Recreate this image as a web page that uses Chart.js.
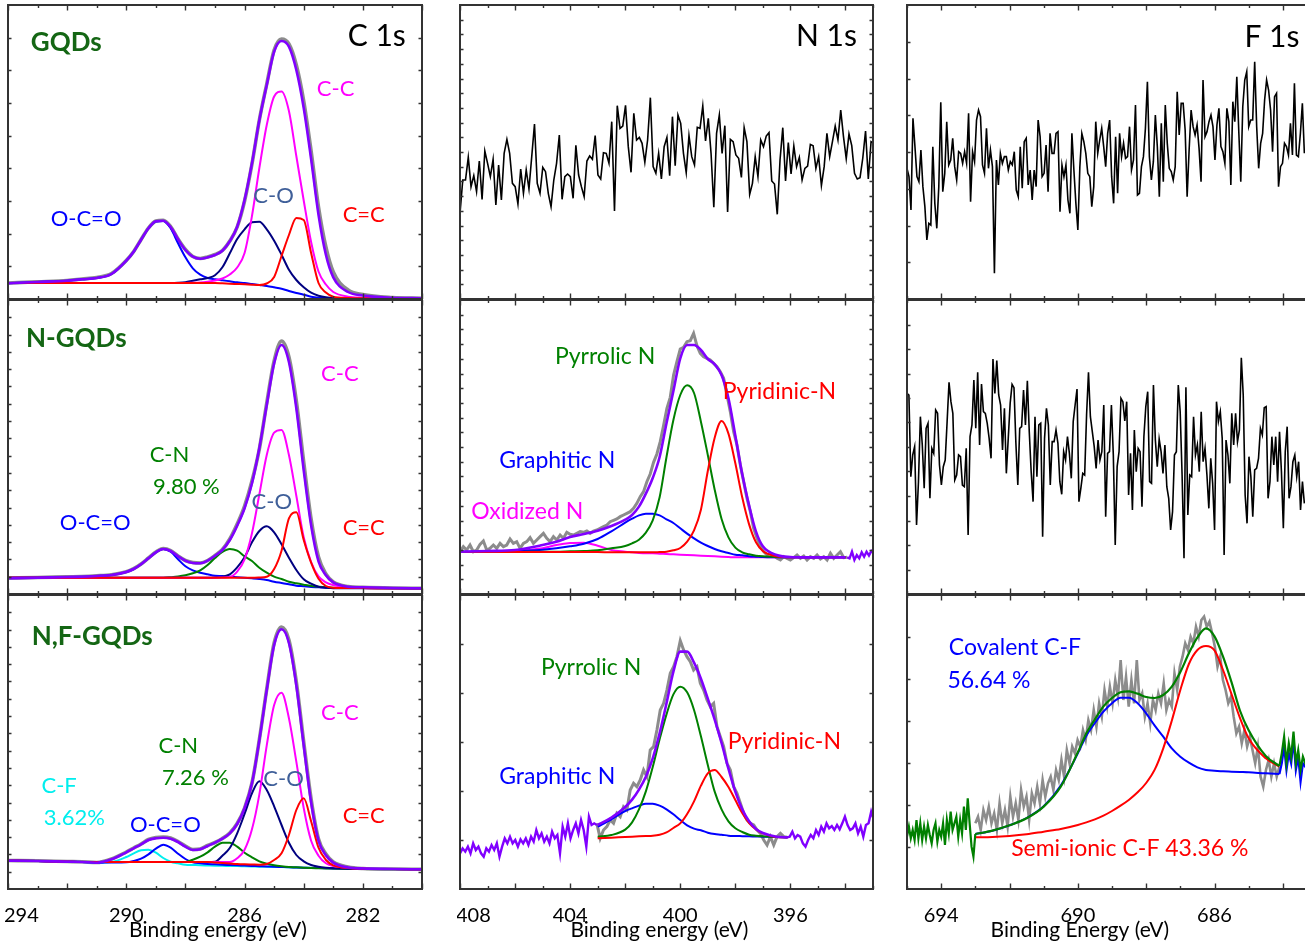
<!DOCTYPE html>
<html lang="en">
<head>
    <meta charset="UTF-8">
    <title>XPS C 1s, N 1s and F 1s spectra of GQDs, N-GQDs and N,F-GQDs</title>
    <style>
        html, body { margin: 0; padding: 0; background: #fff; }
        body { position: relative; width: 1305px; height: 945px; overflow: hidden; }
        canvas { position: absolute; }
    </style>
</head>
<body>

    <script src="https://cdn.jsdelivr.net/npm/chart.js@4.4.1/dist/chart.umd.min.js"></script>
    <script>

        // ---- C 1s : fitted spectra (binding energy in eV, intensity a.u.) ----
        const c1sEnergy = [294, 293, 292, 291.5, 291, 290.5, 290, 289.75, 289.5, 289.25, 289, 288.75, 288.5, 288.25, 288,
            287.75, 287.5, 287.25, 287, 286.75, 286.5, 286.25, 286, 285.75, 285.5, 285.25, 285, 284.75, 284.5, 284.25,
            284, 283.75, 283.5, 283.25, 283, 282.5, 282, 281, 280];

        // GQDs
        const gqdC1sRaw = [16, 17.2, 18.5, 20, 21.5, 25.5, 38.5, 47.5, 59.5, 71, 78, 78.8, 72.5, 60, 49.5, 42.5, 40.5, 42, 44.5, 48.5,
            58, 72, 98, 135, 179, 215, 249, 260, 255, 234, 198, 148, 92, 52, 27, 9, 4.5, 1.5, 0.8];
        const gqdC1sFit = [15.7, 17, 18.3, 19.7, 21, 25, 38.3, 47.3, 59.3, 70.7, 77.8, 78.3, 72, 59.7, 49, 42.3, 40.3, 41.7, 44, 48.3,
            57.7, 72.3, 99, 135.7, 179, 214, 247.3, 258, 252.3, 229, 191, 140, 84.3, 44.3, 21.7, 7, 3.5, 1.3, 0.7];
        const gqdC1sOCO = [15.7, 17, 18.3, 19.7, 21, 25, 38.3, 47.3, 59.3, 70.7, 77.5, 78, 70.7, 55.7, 41.7, 30.7, 24.3, 21, 19.7, 18.7,
            17.7, 16.7, 16, 15, 14, 13, 11.7, 10.3, 8, 6, 4.3, 2.3, 1.3, 1, 0.7, 0.5, 0.5, 0.3, 0.3];
        const gqdC1sCO = [16, 16, 16, 16, 16, 16, 16, 16, 16, 16, 16, 16, 16, 16.2, 16.8, 18.3, 19.7, 21, 23.7, 31.7,
            45.7, 60, 69.7, 76.7, 77.3, 69.7, 58.3, 44.3, 29.3, 19, 11.7, 6.3, 3.3, 1.7, 1, 0.8, 0.7, 0.5, 0.5];
        const gqdC1sCC = [16, 16, 16, 16, 16, 16, 16, 16, 16, 16, 16, 16, 16, 16, 16, 16.2, 16.5, 17.3, 18.5, 20.5,
            24.5, 31.5, 46, 83, 131, 174, 202.5, 207.5, 188, 143, 98.5, 57, 27.5, 14.5, 7, 2.3, 1.3, 0.8, 0.5];
        const gqdC1sCdC = [16, 16, 16, 16, 16, 16, 16, 16, 16, 16, 16, 16, 16, 16, 16, 16, 16, 16, 16, 15.7,
            15.3, 15, 14.7, 14.3, 14, 15.5, 22, 43, 64, 81, 79, 46, 16, 6.5, 2.3, 1, 0.7, 0.5, 0.5];

        // N-GQDs
        const ngqC1sRaw = [16, 16.5, 17.2, 17.5, 18.2, 19.3, 22.2, 25.3, 30, 36, 42, 45.5, 43.5, 38, 33.5, 31.5, 31, 33.5, 38.5, 44.5,
            55, 70, 88, 113, 145, 191, 233, 253, 237, 193, 132, 75, 37, 20, 12, 7.5, 6.7, 6, 5.7];
        const ngqC1sFit = [15.7, 16.3, 17, 17.3, 18, 19, 22, 25, 29.7, 35.7, 41.7, 45, 43, 37.7, 33.3, 31, 30.7, 33.3, 38.3, 44,
            54, 68.3, 85.7, 110.7, 146, 189, 230.7, 249, 232, 185.7, 123.7, 68.7, 32.7, 18.7, 11.7, 7.3, 6.7, 6, 5.7];
        const ngqC1sOCO = [15.7, 16.3, 17, 17.3, 18, 19, 22, 25, 29.7, 35.7, 41.7, 45, 42.3, 34.7, 27.7, 23.7, 21.3, 19.7, 18.3, 18,
            17.3, 16.7, 16.3, 15.7, 15, 14, 12.3, 11, 9.7, 8.3, 7.7, 7, 6.7, 6.3, 6, 6, 6, 6, 5.7];
        const ngqC1sCN = [16.3, 16.3, 16.3, 16.3, 16.3, 16.3, 16.3, 16.3, 16.3, 16.3, 16.3, 16.3, 16.8, 17.5, 18.7, 20.7, 23.7, 29, 36, 42,
            45, 43.3, 37.7, 33, 26.3, 21.3, 17.3, 15, 12.3, 10.7, 9.3, 8, 7.3, 6.7, 6.3, 6, 6, 5.7, 5.7];
        const ngqC1sCO = [16.3, 16.3, 16.3, 16.3, 16.3, 16.3, 16.3, 16.3, 16.3, 16.3, 16.3, 16.3, 16.3, 16.3, 16.3, 16.3, 16.3, 16.3, 16.5, 17.3,
            19.7, 26.7, 36.7, 51.7, 63, 67.7, 61.7, 49.7, 36.3, 24, 14.7, 10.3, 7.3, 6.3, 5.7, 5.7, 5.7, 5.7, 5.7];
        const ngqC1sCC = [16.3, 16.3, 16.3, 16.3, 16.3, 16.3, 16.3, 16.3, 16.3, 16.3, 16.3, 16.3, 16.3, 16.3, 16.3, 16.3, 16.3, 16.3, 16.3, 16.5,
            17, 22.3, 34.7, 60.7, 99.7, 139, 161.3, 164, 139, 98.3, 56.7, 32, 17.7, 11.7, 9, 6.7, 6, 5.7, 5.7];
        const ngqC1sCdC = [16.3, 16.3, 16.3, 16.3, 16.3, 16.3, 16.3, 16.3, 16.3, 16.3, 16.3, 16.3, 16.3, 16.3, 16.3, 16.3, 16.3, 16.3, 16.3, 16.3,
            16.3, 16.3, 16.3, 16.3, 16.5, 17.3, 25, 43.3, 75.7, 81.7, 54, 31.3, 15.3, 8, 6.3, 6, 6, 5.7, 5.7];

        // N,F-GQDs
        const nfC1sRaw = [28.5, 28.2, 27.5, 27.2, 26.5, 30, 37, 41, 45, 49.5, 51.5, 52, 51, 47.5, 43, 39.5, 40, 43.5, 46.5, 50.5,
            56, 65.5, 81, 106, 149.5, 200, 246, 262, 249, 207, 147, 90, 50, 35, 27, 22, 20.5, 20, 19.7];
        const nfC1sFit = [28.3, 28, 27.3, 27, 26.3, 29.7, 36.7, 40.7, 44.7, 49, 50.7, 51.3, 50.3, 47, 42.3, 39, 39.7, 43, 46.3, 50.3,
            55.7, 65, 80.7, 105.7, 149, 199, 244, 259.7, 246, 203.7, 143.7, 86.7, 48.3, 33.7, 26.3, 21.5, 20.5, 20, 19.7];
        const nfC1sCF = [28.3, 28, 27.3, 27, 26.3, 27, 32, 35.7, 38.7, 39.3, 36.3, 31, 27.3, 25.7, 24.3, 24, 23.7, 23.5, 23.3, 23.2,
            23, 22.9, 22.7, 22.5, 22.3, 22.2, 22, 21.9, 21.7, 21.5, 21.3, 21.2, 21, 20.9, 20.7, 20.5, 20.3, 20, 19.7];
        const nfC1sOCO = [28.3, 28, 27.3, 27, 26.3, 26.5, 26.7, 28, 30.3, 34.7, 40.3, 44.3, 41.3, 35.3, 30, 26.7, 25.7, 25, 24.7, 24.3,
            24, 23.7, 23.4, 23.1, 22.8, 22.5, 22.3, 22, 21.7, 21.5, 21.3, 21.1, 21, 20.8, 20.6, 20.4, 20.3, 20, 19.7];
        const nfC1sCN = [28.3, 28, 27.3, 27, 27, 27, 27, 27, 27, 27, 27, 27, 27, 27, 27, 29.3, 32.3, 36.7, 42.3, 46.3,
            46.3, 42.3, 36.3, 31.7, 27.7, 25.3, 23.7, 22.7, 22, 21.7, 21.3, 21, 20.8, 20.6, 20.4, 20.2, 20, 19.8, 19.7];
        const nfC1sCO = [28.3, 28, 27.3, 27, 27, 27, 27, 27, 27, 27, 27, 27, 27, 27, 27, 27, 27, 27, 27.3, 33.3,
            41, 55.7, 75, 95.7, 107.7, 99, 82.7, 64, 46.3, 34, 27.7, 24, 22.3, 21.3, 20.7, 20.3, 20.3, 20, 19.7];
        const nfC1sCC = [28.3, 28, 27.3, 27, 27, 27, 27, 27, 27, 27, 27, 27, 27, 27, 27, 27, 27, 27, 27, 27,
            27, 30.7, 39.3, 59.7, 94.7, 143.7, 184, 196.3, 170.7, 127.3, 81, 48.3, 33.3, 25.7, 23, 21.3, 20.5, 20, 19.7];
        const nfC1sCdC = [28.3, 28, 27.3, 27, 27, 27, 27, 27, 27, 27, 27, 27, 27, 27, 27, 27, 27, 27, 26.5, 26,
            25.5, 25, 24.7, 24.5, 24.3, 25, 29, 35.7, 54, 79, 90.7, 67.7, 41.3, 29, 23.7, 21, 20.3, 20, 19.7];

        // ---- N 1s ----
        // GQDs: no nitrogen signal, raw scan from 408 to 393 eV
        const gqdN1sRaw = [257, 357, 357, 425, 337, 370, 322, 414, 299, 444, 407, 367, 419, 282, 402, 297, 437, 479, 437, 347,
            337, 285, 390, 317, 387, 330, 427, 525, 347, 317, 395, 382, 317, 277, 357, 407, 492, 299, 367, 375,
            367, 302, 461, 372, 337, 307, 414, 429, 419, 490, 372, 360, 439, 437, 407, 532, 264, 580, 512, 519,
            581, 457, 380, 557, 477, 485, 467, 410, 477, 604, 397, 377, 437, 360, 457, 485, 370, 547, 400, 552,
            527, 437, 379, 490, 427, 402, 515, 512, 579, 474, 542, 437, 275, 497, 552, 437, 520, 261, 479, 472,
            432, 422, 365, 514, 472, 314, 347, 427, 367, 477, 457, 489, 499, 354, 345, 254, 417, 514, 354, 469,
            375, 459, 397, 425, 357, 392, 399, 464, 460, 392, 427, 340, 397, 497, 427, 472, 519, 477, 567, 487,
            421, 495, 460, 377, 360, 364, 423, 504, 360, 472, 467];

        // N-GQDs
        const ngqN1sEnergy = [408, 407, 406, 405, 404.5, 404, 403.5, 403, 402.5, 402, 401.75, 401.5, 401.25, 401, 400.75, 400.5,
            400.25, 400, 399.75, 399.5, 399.25, 399, 398.75, 398.5, 398.25, 398, 397.75, 397.5, 397.25, 397, 396.5, 396,
            395.5, 395, 394.5, 394];
        const ngqN1sRaw = [127, 142, 132, 147, 127, 132, 149, 159, 132, 137, 147, 137, 152, 142, 147, 165, 152, 157, 137, 152,
            157, 169, 152, 162, 172, 182, 167, 157, 172, 162, 177, 167, 185, 179, 177, 182, 187, 185, 189, 182,
            189, 192, 197, 202, 207, 217, 221, 225, 232, 237, 242, 247, 257, 272, 292, 307, 337, 360, 395, 420,
            457, 505, 557, 590, 657, 697, 735, 740, 757, 760, 782, 745, 722, 712, 707, 702, 692, 682, 667, 647,
            597, 547, 487, 447, 387, 337, 287, 247, 197, 167, 142, 127, 117, 122, 115, 107, 102, 112, 107, 102,
            109, 117, 107, 114, 102, 112, 107, 117, 105, 112, 102, 122, 107, 117, 127, 109, 110];
        const ngqN1sFit = [127, 129, 132, 147, 157, 171, 180, 190, 204, 223, 237, 262, 301, 348, 411, 512, 609, 707, 747, 747,
            732, 705, 689, 657, 587, 475, 359, 265, 187, 143, 117, 111, 110, 110, 110, 110];
        const ngqN1sTail = [110, 107, 127, 102, 117, 107, 125, 112, 127, 115, 129, 122];
        const ngqN1sOxidized = [126, 128, 130, 137, 147, 153, 154, 145, 132, 127, 125, 123, 122, 122, 121, 120, 119, 118, 117, 116,
            115, 114, 113, 112, 111, 110, 110, 110, 110, 110, 110, 110, 110, 110, 110, 110];
        const ngqN1sGraphitic = [126, 128, 129, 133, 137, 143, 151, 165, 188, 214, 226, 236, 241, 241, 236, 224, 213, 197, 181, 167,
            154, 144, 135, 128, 123, 118, 116, 113, 112, 111, 110, 110, 110, 110, 110, 110];
        const ngqN1sPyrrolic = [126, 126, 126, 127, 127, 128, 129, 131, 137, 144, 152, 163, 184, 221, 290, 411, 522, 597, 626, 603,
            517, 417, 313, 225, 170, 139, 125, 119, 115, 113, 111, 110, 110, 110, 110, 110];
        const ngqN1sPyridinic = [126, 126, 126, 126, 126, 126, 126, 126, 125, 125, 125, 125, 125, 125, 126, 127, 131, 138, 157, 191,
            253, 369, 469, 519, 481, 392, 290, 209, 155, 129, 113, 110, 110, 110, 110, 110];

        // N,F-GQDs
        const nfN1sEnergy = [403, 402.5, 402, 401.75, 401.5, 401.25, 401, 400.75, 400.5, 400.25, 400, 399.75, 399.5, 399.25, 399,
            398.75, 398.5, 398.25, 398, 397.75, 397.5, 397.25, 397, 396.5, 396.1];
        const nfN1sLeft = [107, 122, 112, 127, 107, 137, 117, 127, 107, 97, 122, 112, 132, 117, 137, 97, 127, 152, 137, 157,
            137, 147, 127, 149, 137, 152, 132, 157, 142, 177, 152, 167, 142, 157, 137, 172, 152, 162, 107, 187,
            157, 197, 152, 177, 197, 167, 207, 177, 127, 217, 192, 197, 192];
        const nfN1sRaw = [197, 152, 177, 187, 207, 197, 227, 217, 247, 237, 297, 317, 307, 327, 357, 337, 417, 427, 477, 537,
            557, 597, 647, 667, 697, 745, 717, 697, 682, 657, 667, 617, 597, 567, 547, 557, 487, 457, 427, 377,
            357, 307, 287, 257, 227, 207, 197, 192, 177, 167, 147, 132, 157, 132, 157, 167, 157, 155];
        const nfN1sRight = [155, 157, 172, 152, 162, 157, 137, 127, 147, 162, 152, 177, 162, 187, 172, 197, 182, 189, 177, 192,
            179, 197, 217, 192, 177, 182, 197, 167, 187, 157, 192, 197, 232, 207];
        const nfN1sFit = [192, 214, 246, 268, 298, 337, 392, 467, 557, 652, 712, 712, 679, 631, 571, 508, 438, 361, 292, 239,
            203, 180, 168, 157, 155];
        const nfN1sGraphitic = [187, 209, 234, 242, 250, 256, 256, 250, 239, 224, 207, 191, 181, 176, 169, 165, 163, 160, 159, 158.5,
            158, 157.5, 157, 156, 155];
        const nfN1sPyrrolic = [157, 162, 178, 200, 239, 293, 366, 449, 524, 584, 607, 590, 537, 458, 372, 292, 239, 203, 182, 171,
            163, 160, 158, 156, 155];
        const nfN1sPyridinic = [152, 154, 156, 157, 158, 159, 160, 163, 170, 183, 197, 225, 263, 310, 347, 357, 336, 306, 267, 228,
            198, 179, 167, 156, 155];

        // ---- F 1s ----
        const gqdF1sRaw = [392, 367, 267, 542, 457, 367, 352, 447, 337, 277, 177, 227, 222, 457, 287, 212, 337, 590, 322, 377,
            532, 402, 417, 482, 397, 357, 442, 437, 407, 442, 407, 557, 292, 442, 412, 537, 567, 547, 402, 377,
            512, 392, 447, 397, 77, 417, 342, 437, 407, 427, 427, 387, 412, 402, 442, 327, 307, 457, 332, 472,
            482, 342, 387, 297, 387, 337, 537, 487, 367, 377, 462, 322, 497, 437, 437, 497, 502, 262, 402, 367,
            402, 297, 257, 497, 387, 287, 207, 397, 497, 472, 437, 377, 367, 277, 337, 532, 437, 477, 512, 457,
            397, 497, 537, 367, 287, 487, 317, 497, 427, 467, 422, 427, 517, 387, 417, 582, 312, 317, 397, 427,
            512, 652, 427, 357, 412, 552, 457, 307, 527, 352, 582, 467, 392, 382, 357, 397, 622, 492, 587, 587,
            507, 307, 447, 567, 517, 492, 522, 452, 352, 657, 487, 502, 532, 552, 517, 417, 522, 572, 457, 442,
            407, 572, 532, 342, 592, 532, 667, 502, 352, 577, 657, 682, 517, 537, 537, 712, 517, 392, 467, 497,
            597, 657, 627, 567, 442, 607, 617, 337, 397, 407, 467, 457, 432, 527, 432, 647, 432, 427, 497, 587, 437];
        const ngqF1sRaw = [602, 597, 352, 417, 442, 207, 337, 532, 447, 317, 497, 512, 287, 437, 422, 552, 542, 387, 327, 382,
            402, 517, 635, 577, 542, 342, 357, 417, 412, 327, 322, 437, 177, 472, 507, 642, 497, 665, 447, 630,
            547, 542, 512, 467, 407, 705, 602, 700, 597, 567, 432, 557, 362, 467, 572, 629, 619, 452, 327, 497,
            502, 612, 507, 640, 487, 367, 277, 532, 352, 507, 512, 172, 467, 557, 507, 327, 457, 457, 492, 452,
            337, 299, 427, 402, 472, 422, 347, 517, 567, 615, 277, 317, 362, 357, 537, 665, 532, 487, 442, 377,
            462, 402, 427, 567, 232, 422, 427, 567, 417, 147, 382, 427, 587, 577, 519, 577, 297, 422, 252, 492,
            367, 437, 427, 262, 472, 562, 607, 337, 332, 627, 462, 382, 465, 427, 362, 447, 322, 287, 192, 247,
            417, 427, 627, 547, 357, 107, 620, 237, 357, 352, 532, 417, 447, 367, 547, 397, 437, 357, 257, 407,
            332, 192, 577, 517, 547, 467, 117, 462, 417, 332, 542, 447, 542, 457, 492, 709, 597, 297, 212, 412,
            352, 232, 372, 377, 407, 497, 477, 559, 562, 287, 337, 472, 387, 472, 337, 487, 367, 197, 427, 502,
            287, 322, 397, 417, 352, 397, 252, 337, 272];

        // N,F-GQDs
        const nfF1sEnergy = [693, 692.5, 692, 691.5, 691, 690.5, 690, 689.75, 689.5, 689.25, 689, 688.75, 688.5, 688.25, 688,
            687.75, 687.5, 687.25, 687, 686.75, 686.5, 686.25, 686, 685.75, 685.5, 685.25, 685, 684.5, 684.1];
        const nfF1sRaw = [197, 217, 177, 237, 207, 247, 197, 227, 177, 257, 197, 237, 187, 277, 217, 257, 207, 297, 247, 277,
            207, 287, 257, 307, 257, 327, 277, 317, 337, 297, 357, 327, 387, 337, 417, 377, 427, 407, 447, 427,
            477, 447, 507, 477, 537, 487, 557, 517, 597, 547, 607, 557, 627, 577, 687, 567, 637, 547, 627, 557,
            687, 567, 587, 517, 557, 497, 567, 537, 587, 557, 617, 537, 567, 547, 647, 597, 667, 697, 737, 717,
            757, 737, 787, 757, 807, 817, 787, 802, 767, 727, 667, 697, 627, 597, 557, 577, 517, 467, 487, 437,
            477, 427, 457, 417, 377, 427, 337, 307, 357, 387, 337, 377, 337, 367];
        const nfF1sLeft = [157, 187, 152, 177, 147, 207, 152, 197, 147, 187, 152, 192, 162, 137, 177, 197, 142, 177, 157, 197,
            132, 207, 167, 232, 177, 197, 217, 157, 207, 167, 247, 177, 272, 197, 127, 97, 165];
        const nfF1sRightFit = [369, 407, 457, 377, 437, 397, 472, 377, 417, 357, 397, 377, 397, 387, 402, 382, 392];
        const nfF1sRightCov = [345, 377, 427, 357, 407, 377, 447, 357, 397, 322, 377, 367, 392, 382, 377, 387, 372];
        const nfF1sFit = [165, 175, 191, 212, 247, 307, 410, 467, 509, 548, 573, 590, 593, 586, 576, 573, 582, 607, 651, 707,
            755, 782, 758, 697, 620, 534, 476, 399, 369];
        const nfF1sCovalent = [165, 175, 191, 213, 248, 310, 407, 460, 498, 532, 557, 574, 574, 557, 527, 490, 457, 422, 397, 379,
            365, 357, 355, 353, 352, 351, 350, 347, 345];
        const nfF1sSemiIonic = [155, 156, 159, 164, 172, 180, 192, 200, 209, 220, 234, 250, 268, 290, 318, 358, 422, 505, 597, 675,
            717, 729, 716, 657, 584, 512, 452, 392, 367];

        // axis tick labels
        const c1sTicks = [294, 290, 286, 282];
        const n1sTicks = [408, 404, 400, 396];
        const f1sTicks = [694, 690, 686];

        // ---------------- drawing ----------------
        const FONT = 'Lato, "Open Sans", sans-serif';
        const PURPLE = '#8000ff', GRAY = '#8c8c8c', NAVY = '#000080', GREEN = '#008000', CYAN = '#00eeee',
              MAGENTA = '#ff00ff', RED = '#ff0000', BLUE = '#0000ff', BLACK = '#000000';
        const SAMPLE = '#146614', CO_TEXT = '#3f5f99';

        // evenly spaced energy axis for the raw scans
        function energyGrid(from, to, count) {
            const step = (to - from) / (count - 1);
            return Array.from({ length: count }, (_, i) => from + i * step);
        }

        function line(energy, values, color, width, smooth) {
            return {
                data: energy.map((e, i) => ({ x: e, y: values[i] })),
                borderColor: color,
                borderWidth: width,
                pointRadius: 0,
                fill: false,
                cubicInterpolationMode: smooth ? 'monotone' : 'default',
                tension: 0
            };
        }

        function label(text, color, x, y, size, bold) {
            return { text, color, at: [x, y], size: size || 22, bold: !!bold };
        }

        // draws the frame, inward ticks, annotations and the bottom axis labels
        const framePlugin = {
            id: 'frame',
            afterDatasetsDraw(chart, args, o) {
                const { ctx, chartArea: a } = chart;
                const x = chart.scales.x, y = chart.scales.y;
                ctx.save();
                ctx.strokeStyle = '#333';
                ctx.lineWidth = 1.4;
                ctx.beginPath();
                for (let e = Math.ceil(x.min); e <= x.max; e++) {
                    const px = Math.round(x.getPixelForValue(e)) + 0.5;
                    const len = e % 2 === 0 ? 5.5 : 3;
                    ctx.moveTo(px, a.bottom); ctx.lineTo(px, a.bottom - len);
                    ctx.moveTo(px, a.top); ctx.lineTo(px, a.top + len);
                }
                for (let i = 1; i < o.yTicks; i++) {
                    const py = Math.round(y.getPixelForValue(y.max * i / o.yTicks)) + 0.5;
                    ctx.moveTo(a.left, py); ctx.lineTo(a.left + 3.5, py);
                    ctx.moveTo(a.right, py); ctx.lineTo(a.right - 3.5, py);
                }
                ctx.stroke();
                ctx.lineWidth = 2;
                ctx.strokeRect(a.left, a.top, a.width, a.height);

                ctx.textAlign = 'center';
                ctx.textBaseline = 'middle';
                o.labels.forEach(l => {
                    ctx.font = (l.bold ? 'bold ' : '') + l.size + 'px ' + FONT;
                    ctx.fillStyle = l.color;
                    ctx.fillText(l.text, x.getPixelForValue(l.at[0]), y.getPixelForValue(l.at[1]));
                });

                if (o.tickLabels) {
                    ctx.fillStyle = '#000';
                    ctx.font = '20px ' + FONT;
                    o.tickLabels.forEach(v => {
                        const s = String(v), w = ctx.measureText(s).width;
                        const cx = Math.max(x.getPixelForValue(v), a.left - 4 + w / 2);
                        ctx.fillText(s, cx, a.bottom + 27);
                    });
                    ctx.font = '21px ' + FONT;
                    ctx.fillText(o.title, x.getPixelForValue(o.titleAt), a.bottom + 41);
                }
                ctx.restore();
            }
        };

        const columns = [
            { left: 8, width: 414, range: [280, 294], ticks: c1sTicks, title: 'Binding energy (eV)', titleAt: 286.9 },
            { left: 460, width: 413, range: [393, 408], ticks: n1sTicks, title: 'Binding energy (eV)', titleAt: 400.76 },
            { left: 907, width: 410, range: [683, 695], ticks: f1sTicks, title: 'Binding Energy (eV)', titleAt: 689.94 }
        ];
        const rowTops = [5, 300, 595];
        const ROW_H = 294;

        const panels = [
            {
                col: 0, row: 0, yMax: 294, yTicks: 9,
                series: [
                    line(c1sEnergy, gqdC1sFit, PURPLE, 2.6, true),
                    line(c1sEnergy, gqdC1sCdC, RED, 2, true),
                    line(c1sEnergy, gqdC1sCC, MAGENTA, 2, true),
                    line(c1sEnergy, gqdC1sCO, NAVY, 2, true),
                    line(c1sEnergy, gqdC1sOCO, BLUE, 2, true),
                    line(c1sEnergy, gqdC1sRaw, GRAY, 3.6, true)
                ],
                labels: [
                    label('GQDs', SAMPLE, 292.03, 256, 26, true),
                    label('C 1s', BLACK, 281.53, 263, 30),
                    label('C-C', MAGENTA, 282.92, 210),
                    label('C-O', CO_TEXT, 285.02, 103),
                    label('C=C', RED, 281.97, 84),
                    label('O-C=O', BLUE, 291.36, 80)
                ]
            },
            {
                col: 1, row: 0, yMax: 882, yTicks: 20,
                series: [line(energyGrid(408, 392.97, gqdN1sRaw.length), gqdN1sRaw, BLACK, 1.6, false)],
                labels: [label('N 1s', BLACK, 394.69, 789, 30)]
            },
            {
                col: 2, row: 0, yMax: 882, yTicks: 8,
                series: [line(energyGrid(695, 683.37, gqdF1sRaw.length), gqdF1sRaw, BLACK, 1.6, false)],
                labels: [label('F 1s', BLACK, 684.32, 786, 30)]
            },
            {
                col: 0, row: 1, yMax: 294, yTicks: 17,
                series: [
                    line(c1sEnergy, ngqC1sFit, PURPLE, 2.6, true),
                    line(c1sEnergy, ngqC1sCdC, RED, 2, true),
                    line(c1sEnergy, ngqC1sCC, MAGENTA, 2, true),
                    line(c1sEnergy, ngqC1sCO, NAVY, 2, true),
                    line(c1sEnergy, ngqC1sCN, GREEN, 2, true),
                    line(c1sEnergy, ngqC1sOCO, BLUE, 2, true),
                    line(c1sEnergy, ngqC1sRaw, GRAY, 3.6, true)
                ],
                labels: [
                    label('N-GQDs', SAMPLE, 291.69, 255, 26, true),
                    label('C-C', MAGENTA, 282.78, 220),
                    label('C-N', GREEN, 288.54, 139),
                    label('9.80 %', GREEN, 287.97, 107),
                    label('C-O', CO_TEXT, 285.08, 92),
                    label('O-C=O', BLUE, 291.05, 71),
                    label('C=C', RED, 281.97, 66)
                ]
            },
            {
                col: 1, row: 1, yMax: 882, yTicks: 20,
                series: [
                    line(ngqN1sEnergy, ngqN1sFit, PURPLE, 2.6, true),
                    line(energyGrid(393.94, 392.97, ngqN1sTail.length), ngqN1sTail, PURPLE, 2.4, false),
                    line(ngqN1sEnergy, ngqN1sPyridinic, RED, 2, true),
                    line(ngqN1sEnergy, ngqN1sPyrrolic, GREEN, 2, true),
                    line(ngqN1sEnergy, ngqN1sGraphitic, BLUE, 2, true),
                    line(ngqN1sEnergy, ngqN1sOxidized, MAGENTA, 2, true),
                    line(energyGrid(408, 393.94, ngqN1sRaw.length), ngqN1sRaw, GRAY, 3, false)
                ],
                labels: [
                    label('Pyrrolic N', GREEN, 402.73, 711, 23),
                    label('Pyridinic-N', RED, 396.4, 606, 23),
                    label('Graphitic N', BLUE, 404.47, 399, 23),
                    label('Oxidized N', MAGENTA, 405.56, 246, 23)
                ]
            },
            {
                col: 2, row: 1, yMax: 882, yTicks: 12,
                series: [line(energyGrid(695, 683.37, ngqF1sRaw.length), ngqF1sRaw, BLACK, 1.6, false)],
                labels: []
            },
            {
                col: 0, row: 2, yMax: 294, yTicks: 17,
                series: [
                    line(c1sEnergy, nfC1sFit, PURPLE, 2.6, true),
                    line(c1sEnergy, nfC1sCdC, RED, 2, true),
                    line(c1sEnergy, nfC1sCC, MAGENTA, 2, true),
                    line(c1sEnergy, nfC1sCO, NAVY, 2, true),
                    line(c1sEnergy, nfC1sCN, GREEN, 2, true),
                    line(c1sEnergy, nfC1sOCO, BLUE, 2, true),
                    line(c1sEnergy, nfC1sCF, CYAN, 2, true),
                    line(c1sEnergy, nfC1sRaw, GRAY, 3.6, true)
                ],
                labels: [
                    label('N,F-GQDs', SAMPLE, 291.15, 252, 26, true),
                    label('C-C', MAGENTA, 282.78, 176),
                    label('C-N', GREEN, 288.24, 143),
                    label('7.26 %', GREEN, 287.66, 111),
                    label('C-O', CO_TEXT, 284.68, 110),
                    label('C-F', CYAN, 292.27, 103),
                    label('3.62%', CYAN, 291.76, 71),
                    label('O-C=O', BLUE, 288.68, 64),
                    label('C=C', RED, 281.97, 73)
                ]
            },
            {
                col: 1, row: 2, yMax: 882, yTicks: 6,
                series: [
                    line(energyGrid(408, 403.03, nfN1sLeft.length), nfN1sLeft, PURPLE, 2.4, false),
                    line(energyGrid(396.12, 392.97, nfN1sRight.length), nfN1sRight, PURPLE, 2.4, false),
                    line(nfN1sEnergy, nfN1sFit, PURPLE, 2.6, true),
                    line(nfN1sEnergy, nfN1sPyridinic, RED, 2, true),
                    line(nfN1sEnergy, nfN1sPyrrolic, GREEN, 2, true),
                    line(nfN1sEnergy, nfN1sGraphitic, BLUE, 2, true),
                    line(energyGrid(403.03, 396.12, nfN1sRaw.length), nfN1sRaw, GRAY, 3, false)
                ],
                labels: [
                    label('Pyrrolic N', GREEN, 403.24, 663, 23),
                    label('Pyridinic-N', RED, 396.22, 441, 23),
                    label('Graphitic N', BLUE, 404.47, 336, 23)
                ]
            },
            {
                col: 2, row: 2, yMax: 882, yTicks: 7,
                series: [
                    line(nfF1sEnergy, nfF1sFit, GREEN, 2.2, true),
                    line(energyGrid(695, 693, nfF1sLeft.length), nfF1sLeft, GREEN, 2.2, false),
                    line(energyGrid(684.1, 683, nfF1sRightFit.length), nfF1sRightFit, GREEN, 2.2, false),
                    line(energyGrid(684.1, 683, nfF1sRightCov.length), nfF1sRightCov, BLUE, 2.2, false),
                    line(nfF1sEnergy, nfF1sSemiIonic, RED, 2, true),
                    line(nfF1sEnergy, nfF1sCovalent, BLUE, 2, true),
                    line(energyGrid(693, 684.1, nfF1sRaw.length), nfF1sRaw, GRAY, 2.6, false)
                ],
                labels: [
                    label('Covalent C-F', BLUE, 691.84, 723, 23),
                    label('56.64 %', BLUE, 692.6, 624, 23),
                    label('Semi-ionic C-F 43.36 %', RED, 688.48, 120, 23)
                ]
            }
        ];

        const PAD = 3, BOTTOM_EXTRA = 53;

        panels.forEach(p => {
            const col = columns[p.col];
            const last = p.row === 2;
            const canvas = document.createElement('canvas');
            canvas.width = col.width + 2 * PAD;
            canvas.height = ROW_H + 2 * PAD + (last ? BOTTOM_EXTRA : 0);
            canvas.style.left = (col.left - PAD) + 'px';
            canvas.style.top = (rowTops[p.row] - PAD) + 'px';
            canvas.style.width = canvas.width + 'px';
            canvas.style.height = canvas.height + 'px';
            document.body.appendChild(canvas);

            new Chart(canvas.getContext('2d'), {
                type: 'line',
                data: { datasets: p.series },
                options: {
                    responsive: false,
                    animation: false,
                    devicePixelRatio: 1,
                    events: [],
                    layout: { padding: { left: PAD, right: PAD, top: PAD, bottom: PAD + (last ? BOTTOM_EXTRA : 0) } },
                    plugins: {
                        legend: { display: false },
                        tooltip: { enabled: false },
                        frame: {
                            yTicks: p.yTicks,
                            labels: p.labels,
                            tickLabels: last ? col.ticks : null,
                            title: col.title,
                            titleAt: col.titleAt
                        }
                    },
                    scales: {
                        x: { type: 'linear', reverse: true, min: col.range[0], max: col.range[1], display: false },
                        y: { type: 'linear', min: 0, max: p.yMax, display: false }
                    }
                },
                plugins: [framePlugin]
            });
        });

    </script>

</body>
</html>
